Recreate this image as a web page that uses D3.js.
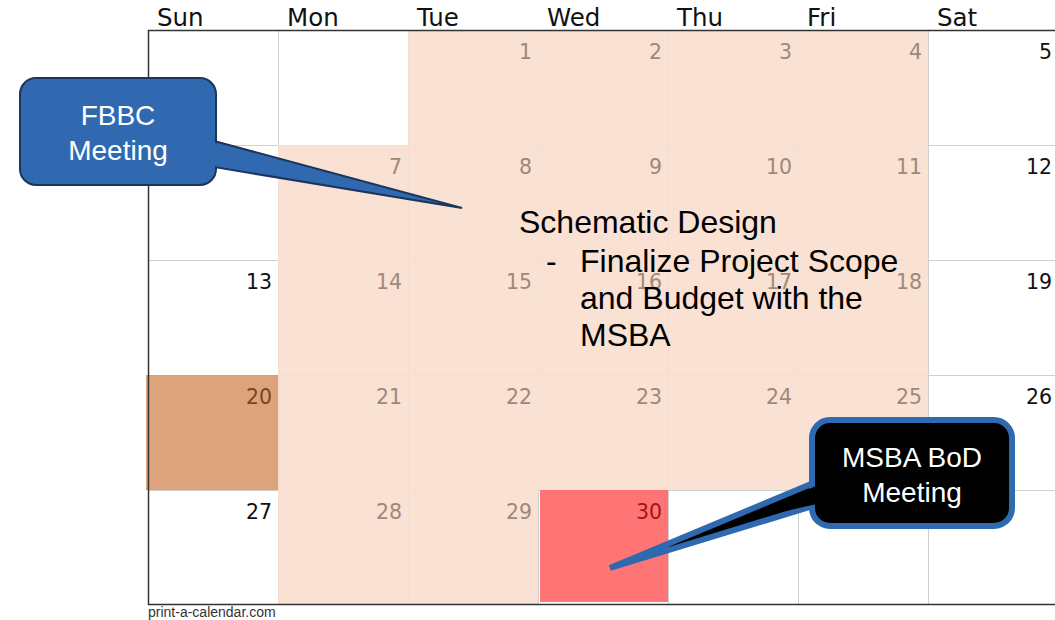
<!DOCTYPE html>
<html>
<head>
<meta charset="utf-8">
<script src="https://cdn.jsdelivr.net/npm/d3@7"></script>
<style>
  body { margin: 0; background: #fff; }
  #cal { width: 1055px; height: 620px; }
</style>
</head>
<body>
<div id="cal"></div>
<script>
var width = 1055;
var height = 620;
var arial = "'Liberation Sans', Arial, sans-serif";
var verdana = "'DejaVu Sans', Verdana, sans-serif";

// weekday headers
var weekdays = ["Sun", "Mon", "Tue", "Wed", "Thu", "Fri", "Sat"];

// calendar weeks (null = no number shown)
var weeks = [
  [null, null, 1, 2, 3, 4, 5],
  [null, 7, 8, 9, 10, 11, 12],
  [13, 14, 15, 16, 17, 18, 19],
  [20, 21, 22, 23, 24, 25, 26],
  [27, 28, 29, 30, null, null, null]
];

// which days are highlighted
var designDays = [1, 2, 3, 4, 7, 8, 9, 10, 11, 14, 15, 16, 17, 18, 21, 22, 23, 24, 25, 28, 29];
var fbbcDays = [20];
var msbaDays = [30];

var noteTitle = "Schematic Design";
var noteLines = ["Finalize Project Scope", "and Budget with the", "MSBA"];
var fbbcLabel = ["FBBC", "Meeting"];
var msbaLabel = ["MSBA BoD", "Meeting"];

var svg = d3.select("#cal")
  .append("svg")
  .attr("width", width)
  .attr("height", height);

var xScale = d3.scaleBand()
  .domain(weekdays)
  .range([148, 148 + 7 * 130]);

var yScale = d3.scaleBand()
  .domain(d3.range(weeks.length))
  .range([30, 605]);

// flatten into cells
var cells = [];
weeks.forEach(function (w, r) {
  w.forEach(function (d, c) {
    var kind = "plain";
    if (designDays.indexOf(d) >= 0) kind = "design";
    if (fbbcDays.indexOf(d) >= 0) kind = "fbbc";
    if (msbaDays.indexOf(d) >= 0) kind = "msba";
    cells.push({ row: r, day: weekdays[c], num: d, kind: kind });
  });
});

var fills = { plain: "#ffffff", design: "#f8dece", fbbc: "#d99a6e", msba: "#ff6666" };
var numColors = { plain: "#111111", design: "#a08878", fbbc: "#7a4422", msba: "#a31515" };

// grid lines (under the shading, shading is slightly see-through)
var grid = svg.append("g").attr("stroke", "#cfcfcf").attr("stroke-width", 1);
weekdays.slice(1).forEach(function (w) {
  grid.append("line")
    .attr("x1", xScale(w) + 0.5).attr("x2", xScale(w) + 0.5)
    .attr("y1", 30).attr("y2", 605);
});
d3.range(1, weeks.length).forEach(function (r) {
  grid.append("line")
    .attr("x1", 148).attr("x2", width)
    .attr("y1", yScale(r) + 0.5).attr("y2", yScale(r) + 0.5);
});

// cell shading
svg.append("g").selectAll("rect")
  .data(cells.filter(function (d) { return d.kind != "plain"; }))
  .enter()
  .append("rect")
  .attr("x", function (d) { return xScale(d.day) - (d.kind == "fbbc" ? 2 : 0) + (d.kind == "msba" ? 2 : 0); })
  .attr("y", function (d) { return yScale(d.row); })
  .attr("width", function (d) { return xScale.bandwidth() + (d.kind == "fbbc" ? 3 : 0) - (d.kind == "msba" ? 2 : 0); })
  .attr("height", function (d) { return yScale.bandwidth() - (d.kind == "msba" ? 3 : 0); })
  .attr("fill", function (d) { return fills[d.kind]; })
  .attr("fill-opacity", 0.9);

// outer border
svg.append("path")
  .attr("d", "M" + width + ",30.5 H148.5 V604.5 H" + width)
  .attr("fill", "none")
  .attr("stroke", "#333")
  .attr("stroke-width", 1.5);

// weekday headers
svg.append("g").selectAll("text")
  .data(weekdays)
  .enter()
  .append("text")
  .attr("x", function (d) { return xScale(d) + 9; })
  .attr("y", 26)
  .attr("font-family", verdana)
  .attr("font-size", 24.5)
  .attr("fill", "#111")
  .text(function (d) { return d; });

// day numbers
svg.append("g").selectAll("text")
  .data(cells.filter(function (d) { return d.num != null; }))
  .enter()
  .append("text")
  .attr("x", function (d) { return xScale(d.day) + xScale.bandwidth() - 6; })
  .attr("y", function (d) { return yScale(d.row) + 28.5; })
  .attr("text-anchor", "end")
  .attr("font-family", verdana)
  .attr("font-size", 20.5)
  .attr("fill", function (d) { return numColors[d.kind]; })
  .text(function (d) { return d.num; });

// schematic design note
var note = svg.append("g")
  .attr("font-family", arial)
  .attr("font-size", 32)
  .attr("fill", "#000");
note.append("text").attr("x", 519).attr("y", 233).text(noteTitle);
note.append("text").attr("x", 546).attr("y", 272).text("-");
noteLines.forEach(function (t, i) {
  note.append("text").attr("x", 580).attr("y", 272 + i * 37).text(t);
});

// speech bubble: rounded box + tail, seam covered by a fill-only tail
function callout(box, tail, cover, fill, stroke, sw, lines, y0) {
  var g = svg.append("g");
  g.append("path")
    .attr("d", d3.line()(tail) + "Z")
    .attr("fill", fill).attr("stroke", stroke).attr("stroke-width", sw);
  g.append("rect")
    .attr("x", box.x).attr("y", box.y)
    .attr("width", box.w).attr("height", box.h)
    .attr("rx", box.r).attr("ry", box.r)
    .attr("fill", fill).attr("stroke", stroke).attr("stroke-width", sw);
  g.append("path")
    .attr("d", d3.line()(cover) + "Z")
    .attr("fill", fill);
  lines.forEach(function (t, i) {
    g.append("text")
      .attr("x", box.x + box.w / 2).attr("y", y0 + i * 35)
      .attr("text-anchor", "middle")
      .attr("font-family", arial)
      .attr("font-size", 28)
      .attr("fill", "#fff")
      .text(t);
  });
}

callout({ x: 20, y: 78, w: 196, h: 107, r: 16 },
  [[214, 141], [462, 208], [214, 167]],
  [[212, 142], [300, 170], [212, 166]],
  "#3169b1", "#1c355c", 2, fbbcLabel, 125);

callout({ x: 812, y: 420, w: 200, h: 106, r: 18 },
  [[816, 482], [610, 568], [816, 505]],
  [[821, 484], [720, 526], [821, 503]],
  "#000", "#2f69b0", 6, msbaLabel, 467);

// footer
svg.append("text")
  .attr("x", 148)
  .attr("y", 617)
  .attr("font-family", arial)
  .attr("font-size", 14)
  .attr("fill", "#333")
  .text("print-a-calendar.com");
</script>
</body>
</html>
